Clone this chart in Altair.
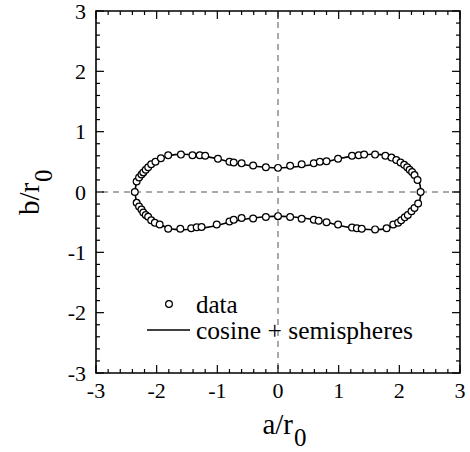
import altair as alt
import pandas as pd

# ---- data ----
upper_x = [-2.36, -2.33, -2.29, -2.25, -2.22, -2.18, -2.14, -2.09, -2.02, -1.93, -1.81, -1.60,
           -1.41, -1.29, -1.20, -0.99, -0.80, -0.73, -0.60, -0.41, -0.20, 0.00, 0.20, 0.39,
           0.59, 0.69, 0.80, 0.99, 1.22, 1.33, 1.42, 1.60, 1.77, 1.87, 1.95, 2.02, 2.08,
           2.13, 2.17, 2.21, 2.25, 2.30, 2.35]
upper_y = [0.00, 0.175, 0.24, 0.29, 0.325, 0.37, 0.41, 0.46, 0.50, 0.56, 0.61, 0.62,
           0.61, 0.61, 0.60, 0.55, 0.50, 0.49, 0.475, 0.44, 0.41, 0.40, 0.435, 0.46,
           0.475, 0.50, 0.51, 0.55, 0.60, 0.61, 0.62, 0.62, 0.60, 0.57, 0.53, 0.49, 0.45,
           0.41, 0.37, 0.33, 0.28, 0.20, 0.00]

lower_x = [-2.33, -2.29, -2.25, -2.22, -2.18, -2.14, -2.09, -2.03, -1.95, -1.81, -1.61,
           -1.43, -1.34, -1.26, -1.01, -0.80, -0.73, -0.60, -0.41, -0.20, 0.00, 0.20, 0.39,
           0.59, 0.67, 0.80, 0.99, 1.22, 1.30, 1.38, 1.60, 1.79, 1.90, 1.98, 2.03, 2.09,
           2.14, 2.20, 2.25, 2.31]
lower_y = [-0.18, -0.24, -0.29, -0.34, -0.38, -0.41, -0.47, -0.51, -0.54, -0.61, -0.61,
           -0.60, -0.585, -0.58, -0.54, -0.49, -0.46, -0.43, -0.44, -0.415, -0.40, -0.415, -0.443,
           -0.46, -0.476, -0.50, -0.54, -0.59, -0.60, -0.61, -0.62, -0.60, -0.54, -0.51, -0.47, -0.42,
           -0.38, -0.32, -0.265, -0.19]

# model curve "cosine + semispheres" (upper and lower branches)
curve_x = [-2.36, -2.34, -2.30, -2.24, -2.16, -2.08, -2.00, -1.90, -1.80, -1.70, -1.55,
           -1.40, -1.20, -1.00, -0.80, -0.60, -0.40, -0.20, 0.00, 0.20, 0.40, 0.60, 0.80,
           1.00, 1.20, 1.40, 1.55, 1.70, 1.80, 1.90, 2.00, 2.08, 2.16, 2.24, 2.30, 2.34, 2.36]
curve_up = [0.00, 0.12, 0.21, 0.29, 0.37, 0.44, 0.50, 0.56, 0.60, 0.62, 0.625,
            0.615, 0.59, 0.55, 0.50, 0.46, 0.43, 0.41, 0.40, 0.41, 0.43, 0.46, 0.50,
            0.55, 0.59, 0.615, 0.625, 0.62, 0.60, 0.56, 0.50, 0.44, 0.37, 0.29, 0.21, 0.12, 0.00]
curve_lo = [0.00, -0.12, -0.21, -0.29, -0.37, -0.44, -0.50, -0.56, -0.60, -0.62, -0.625,
            -0.615, -0.59, -0.55, -0.50, -0.46, -0.43, -0.41, -0.40, -0.41, -0.43, -0.46, -0.50,
            -0.55, -0.59, -0.615, -0.625, -0.62, -0.60, -0.56, -0.50, -0.44, -0.37, -0.29, -0.21, -0.12, 0.00]

major_ticks = [-3, -2, -1, 0, 1, 2, 3]
tick_labels = ["-3", "-2", "-1", "0", "1", "2", "3"]
minor_ticks = [-2.8, -2.6, -2.4, -2.2, -1.8, -1.6, -1.4, -1.2, -0.8, -0.6, -0.4, -0.2,
               0.2, 0.4, 0.6, 0.8, 1.2, 1.4, 1.6, 1.8, 2.2, 2.4, 2.6, 2.8]

FONT = "Liberation Serif"
W, H = 364, 362

pts = pd.DataFrame({"x": upper_x + lower_x, "y": upper_y + lower_y})
curve = pd.DataFrame({
    "x": curve_x + curve_x,
    "y": curve_up + curve_lo,
    "branch": ["up"] * len(curve_x) + ["lo"] * len(curve_x),
})
maj = pd.DataFrame({"v": major_ticks, "lab": tick_labels})
mnr = pd.DataFrame({"v": minor_ticks})
zero = pd.DataFrame({"v": [0]})

xs = alt.Scale(domain=[-3, 3], nice=False, zero=False)
ys = alt.Scale(domain=[-3, 3], nice=False, zero=False)


def X(f):
    return alt.X(f, type="quantitative", scale=xs, axis=None)


def Y(f):
    return alt.Y(f, type="quantitative", scale=ys, axis=None)


xlabels = alt.Chart(maj).mark_text(font=FONT, fontSize=22, align="center",
                                   baseline="alphabetic", color="black").encode(
    x=X("v"), y=alt.value(H + 25), text=alt.Text("lab", type="nominal"))
ylabels = alt.Chart(maj).mark_text(font=FONT, fontSize=22, align="right",
                                   baseline="alphabetic", dy=7.5, color="black").encode(
    y=Y("v"), x=alt.value(-10), text=alt.Text("lab", type="nominal"))


def tick_layers(df, L):
    b = alt.Chart(df).mark_rule(color="black", strokeWidth=1.2)
    return [
        b.encode(x=X("v"), y=alt.value(H), y2=alt.value(H - L)),
        b.encode(x=X("v"), y=alt.value(0), y2=alt.value(L)),
        b.encode(y=Y("v"), x=alt.value(0), x2=alt.value(L)),
        b.encode(y=Y("v"), x=alt.value(W), x2=alt.value(W - L)),
    ]


vdash = alt.Chart(zero).mark_rule(color="#555", strokeWidth=1, strokeDash=[6, 5]).encode(
    x=X("v"))
hdash = alt.Chart(zero).mark_rule(color="#555", strokeWidth=1, strokeDash=[6, 5]).encode(
    y=Y("v"))

line = alt.Chart(curve).mark_line(color="black", strokeWidth=1.6, interpolate="monotone").encode(
    x=X("x"), y=Y("y"), detail="branch:N")

points = alt.Chart(pts).mark_point(shape="circle", size=46, fill="white",
                                    fillOpacity=1, stroke="black", strokeWidth=1.2, opacity=1).encode(
    x=X("x"), y=Y("y"))

one = pd.DataFrame({"k": [0]})
leg_pt = alt.Chart(one).mark_point(shape="circle", size=46, fill="white", fillOpacity=1,
                                   stroke="black", strokeWidth=1.2, opacity=1).encode(
    x=alt.value(73), y=alt.value(293))
leg_line = alt.Chart(one).mark_rule(color="black", strokeWidth=1.4).encode(
    x=alt.value(51), x2=alt.value(94), y=alt.value(319))
leg_t1 = alt.Chart(one).mark_text(text="data", font=FONT, fontSize=25, align="left",
                                  baseline="alphabetic", color="black").encode(
    x=alt.value(100), y=alt.value(302))
leg_t2 = alt.Chart(one).mark_text(text="cosine + semispheres", font=FONT, fontSize=25.5,
                                  align="left", baseline="alphabetic", color="black").encode(
    x=alt.value(100), y=alt.value(328))

xt1 = alt.Chart(one).mark_text(text="a/r", font=FONT, fontSize=29, align="right",
                               baseline="alphabetic", color="black").encode(
    x=alt.value(197), y=alt.value(423))
xt2 = alt.Chart(one).mark_text(text="0", font=FONT, fontSize=25, align="left",
                               baseline="alphabetic", color="black").encode(
    x=alt.value(198), y=alt.value(435))
yt1 = alt.Chart(one).mark_text(text="b/r", font=FONT, fontSize=29, align="left", angle=270,
                               baseline="alphabetic", color="black").encode(
    x=alt.value(-57), y=alt.value(204))
yt2 = alt.Chart(one).mark_text(text="0", font=FONT, fontSize=25, align="left", angle=270,
                               baseline="alphabetic", color="black").encode(
    x=alt.value(-44), y=alt.value(171))

layers = [vdash, hdash] + tick_layers(maj, 8) + tick_layers(mnr, 4) + \
         [line, points, leg_pt, leg_line, leg_t1, leg_t2, xlabels, ylabels, xt1, xt2, yt1, yt2]

chart = alt.layer(*layers).properties(
    width=W, height=H,
    autosize=alt.AutoSizeParams(type="none"),
    padding={"left": 96, "top": 11, "right": 10, "bottom": 79},
    background="white",
).configure_view(stroke="black", strokeWidth=1.6)

chart.save("out.html", embed_options={"renderer": "svg", "actions": False})
